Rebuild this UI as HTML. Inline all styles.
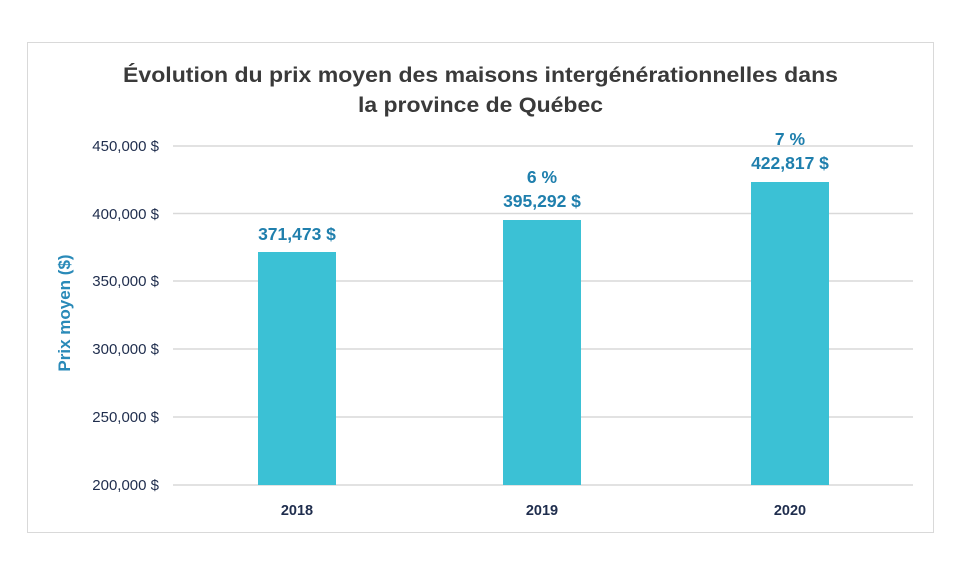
<!DOCTYPE html>
<html><head><meta charset="utf-8"><style>
body{margin:0;background:#fff;width:960px;height:576px;overflow:hidden;font-family:"Liberation Sans",sans-serif}
</style></head><body>
<svg width="960" height="576" xmlns="http://www.w3.org/2000/svg" font-family="Liberation Sans, sans-serif">
<rect x="27.5" y="42.5" width="906" height="490" fill="#fff" stroke="#d9d9d9"/>
<text x="123" y="82" font-size="21" font-weight="bold" fill="#3a3a3a" textLength="715" lengthAdjust="spacingAndGlyphs">Évolution du prix moyen des maisons intergénérationnelles dans</text>
<text x="358" y="112" font-size="21" font-weight="bold" fill="#3a3a3a" textLength="245" lengthAdjust="spacingAndGlyphs">la province de Québec</text>
<g stroke="#d9d9d9" stroke-width="1.5">
<line x1="173" x2="913" y1="146" y2="146"/><line x1="173" x2="913" y1="213.5" y2="213.5"/>
<line x1="173" x2="913" y1="281" y2="281"/><line x1="173" x2="913" y1="349" y2="349"/>
<line x1="173" x2="913" y1="417" y2="417"/><line x1="173" x2="913" y1="485" y2="485"/>
</g>
<g font-size="15" fill="#1f2d4d" text-anchor="end">
<text x="159" y="151">450,000 $</text><text x="159" y="219">400,000 $</text>
<text x="159" y="286">350,000 $</text><text x="159" y="354">300,000 $</text>
<text x="159" y="422">250,000 $</text><text x="159" y="490">200,000 $</text>
</g>
<text transform="translate(70,313) rotate(-90)" text-anchor="middle" font-size="17" font-weight="bold" fill="#2a8ab8">Prix moyen ($)</text>
<g fill="#3bc1d5">
<rect x="258" y="252" width="78" height="233"/>
<rect x="503" y="220" width="78" height="265"/>
<rect x="751" y="182" width="78" height="303"/>
</g>
<g font-size="17.5" font-weight="bold" fill="#1f7fad" text-anchor="middle">
<text x="297" y="240">371,473 $</text>
<text x="542" y="183">6 %</text><text x="542" y="207">395,292 $</text>
<text x="790" y="145">7 %</text><text x="790" y="169">422,817 $</text>
</g>
<g font-size="14.5" font-weight="bold" fill="#1f2d4d" text-anchor="middle">
<text x="297" y="515">2018</text><text x="542" y="515">2019</text><text x="790" y="515">2020</text>
</g>
</svg>
</body></html>
